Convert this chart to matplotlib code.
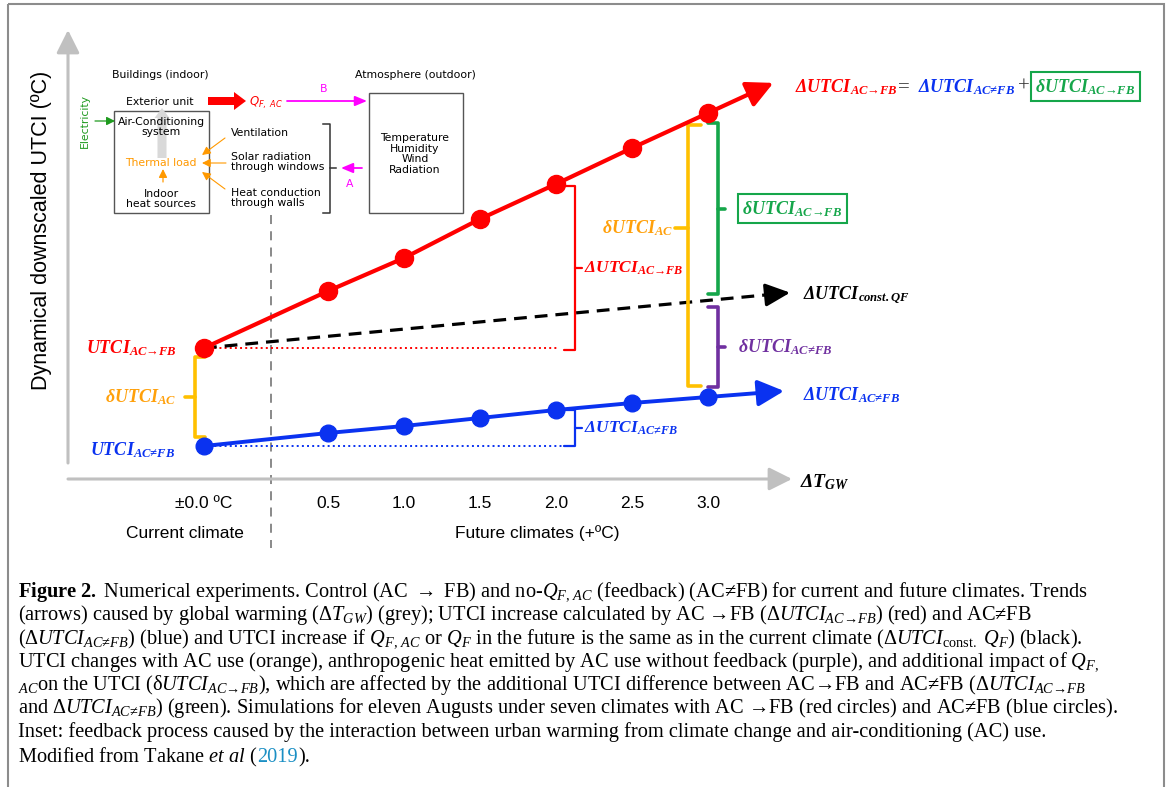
import numpy as np
import matplotlib
matplotlib.use("Agg")
import matplotlib.pyplot as plt
from matplotlib.patches import Rectangle, FancyArrow

plt.rcParams['mathtext.fontset'] = 'custom'
plt.rcParams['mathtext.rm'] = 'Liberation Serif'
plt.rcParams['mathtext.it'] = 'Liberation Serif:italic'
plt.rcParams['mathtext.bf'] = 'Liberation Serif:bold'
plt.rcParams['mathtext.bfit'] = 'Liberation Serif:bold:italic'

# ---------------- data ----------------
warming = np.array([0.0, 0.5, 1.0, 1.5, 2.0, 2.5, 3.0])
tick_labels = ['±0.0 ºC', '0.5', '1.0', '1.5', '2.0', '2.5', '3.0']
utci_ac_fb = np.array([2.45, 3.875, 4.70, 5.675, 6.55, 7.45, 8.325])     # red (AC -> FB)
utci_ac_nofb = np.array([0.0, 0.325, 0.50, 0.70, 0.90, 1.075, 1.225])    # blue (AC != FB)
utci_const_qf = np.array([2.45, 3.64])                                    # black dashed (at 0.0 and 3.0)

# layout
W, H = 1171, 787
GAP = 0.316                         # extra space between current and future climates
PX_X, PX_Y = 152.0, 40.0            # pixels per data unit
X0_PX, Y0_PX = 204, 446             # pixel of data origin

xp = warming + GAP * (warming > 0)

fig = plt.figure(figsize=(W / 100, H / 100), dpi=100)
lay = fig.add_axes([0, 0, 1, 1])
lay.set_xlim(0, W); lay.set_ylim(H, 0); lay.axis('off')
ax = fig.add_axes([0, 0, 1, 1])
ax.set_xlim(-X0_PX / PX_X, (W - X0_PX) / PX_X)
ax.set_ylim(-(H - Y0_PX) / PX_Y, Y0_PX / PX_Y)
ax.axis('off')
ax.patch.set_alpha(0)

RED = '#ff0000'; BLUE = '#0a32f0'; ORANGE_B = '#ffc000'; ORANGE_T = '#ffa00a'
GREEN = '#15a64a'; PURPLE = '#7030a0'; MAG = '#ff00ff'; GREY = '#c0c0c0'
FB = 'AC→FB'
NFB = 'AC≠FB'

def lab(main, sub):
    return r'$\mathbfit{%s}_{\mathbfit{%s}}$' % (main, sub)

# border
lay.add_patch(Rectangle((8, 4), 1156, 790, fill=False, ec='#8c8c8c', lw=1.5))

# axes arrows (grey)
lay.annotate('', xy=(68, 30), xytext=(68, 463),
             arrowprops=dict(arrowstyle='-|>,head_length=0.7,head_width=0.35', mutation_scale=20,
                             lw=2.2, color=GREY, shrinkA=0, shrinkB=0))
lay.annotate('', xy=(792, 479), xytext=(68, 479),
             arrowprops=dict(arrowstyle='-|>,head_length=0.7,head_width=0.35', mutation_scale=20,
                             lw=2.2, color=GREY, shrinkA=0, shrinkB=0))
lay.text(42, 230, 'Dynamical downscaled UTCI (ºC)', rotation=90, ha='center', va='center',
         fontsize=15.5, family='Liberation Sans')
lay.text(800, 482, r'$\mathbfit{\Delta T}_{\mathbfit{GW}}$', ha='left', va='center', fontsize=14)

# tick labels
for xv, t in zip(xp, tick_labels):
    ax.text(xv, -(504 - Y0_PX) / PX_Y, t, ha='center', va='center', fontsize=12.5,
            family='Liberation Sans')
lay.text(185, 533, 'Current climate', ha='center', va='center', fontsize=12.5, family='Liberation Sans')
lay.text(537, 533, 'Future climates (+ºC)', ha='center', va='center', fontsize=12.5, family='Liberation Sans')
lay.plot([271, 271], [215, 548], color='#808080', lw=1.3, ls=(0, (5, 4)))

# dotted reference lines
ax.plot([xp[0], xp[4] + 0.02], [utci_ac_fb[0]] * 2, color=RED, lw=1.4, ls=':', zorder=2)
ax.plot([xp[0], xp[4] + 0.12], [utci_ac_nofb[0]] * 2, color=BLUE, lw=1.4, ls=':', zorder=2)

# const QF dashed arrow
ext = 0.54
slope_c = (utci_const_qf[1] - utci_const_qf[0]) / (xp[-1] - xp[0])
tip = (xp[-1] + ext, utci_const_qf[1] + slope_c * ext)
pre = (tip[0] - 0.12, tip[1] - slope_c * 0.12)
ax.plot([xp[0], pre[0]], [utci_const_qf[0], pre[1]], color='black', lw=2.3, ls=(0, (4, 2.5)), zorder=3)
ax.annotate('', xy=tip, xytext=pre,
            arrowprops=dict(arrowstyle='-|>,head_length=0.75,head_width=0.35', mutation_scale=20,
                            lw=2.3, color='black', shrinkA=0, shrinkB=0), zorder=3)

# red and blue series
def series(y, color, ms, lw, ext):
    ax.plot(xp, y, color=color, lw=lw, marker='o', ms=ms, zorder=5)
    s = (y[-1] - y[-2]) / (xp[-1] - xp[-2])
    ax.annotate('', xy=(xp[-1] + ext, y[-1] + s * ext), xytext=(xp[-1], y[-1]),
                arrowprops=dict(arrowstyle='-|>,head_length=0.8,head_width=0.4', mutation_scale=20,
                                lw=lw, color=color, shrinkA=0, shrinkB=0), zorder=5)

series(utci_ac_fb, RED, 13, 3.0, 0.43)
series(utci_ac_nofb, BLUE, 12, 2.8, 0.50)

# brackets (data coords; arm/tick lengths in x units)
def bracket(x, y0, y1, color, arm, tick, lw=2.6, frac=0.5):
    ym = y0 + (y1 - y0) * frac
    ax.plot([x + arm, x, x, x + arm], [y0, y0, y1, y1], color=color, lw=lw,
            solid_joinstyle='round', solid_capstyle='round', zorder=4)
    ax.plot([x, x + tick], [ym, ym], color=color, lw=lw, solid_capstyle='round', zorder=4)
    return ym

pad = 9 / PX_Y
dx = 1 / PX_X
# left orange bracket
ym = bracket(xp[0] - 9 * dx, utci_ac_fb[0] - pad, utci_ac_nofb[0] + pad, ORANGE_B, 10 * dx, -10 * dx)
ax.text(xp[0] - 28 * dx, ym, lab(r'\delta UTCI', 'AC'), color=ORANGE_T, ha='right', va='center', fontsize=13)
ax.text(xp[0] - 27 * dx, utci_ac_fb[0], lab('UTCI', FB), color=RED, ha='right',
        va='center', fontsize=13)
ax.text(xp[0] - 29 * dx, utci_ac_nofb[0] - 0.1, lab('UTCI', NFB), color=BLUE, ha='right',
        va='center', fontsize=13)

# red and blue brackets at 2.0
ym = bracket(xp[4] + 19 * dx, utci_ac_fb[4] - 2 / PX_Y, utci_ac_fb[0] - 2 / PX_Y, RED, -11 * dx, 7 * dx, lw=1.6)
ax.text(xp[4] + 28 * dx, ym, lab(r'\Delta UTCI', FB), color=RED, ha='left',
        va='center', fontsize=12.5)
ym = bracket(xp[4] + 19 * dx, utci_ac_nofb[4], utci_ac_nofb[0], BLUE, -11 * dx, 7 * dx, lw=1.6)
ax.text(xp[4] + 28 * dx, ym, lab(r'\Delta UTCI', NFB), color=BLUE, ha='left',
        va='center', fontsize=12.5)

# brackets at 3.0
ym = bracket(xp[6] - 20 * dx, utci_ac_fb[6] - 12 / PX_Y, utci_ac_nofb[6] + 11 / PX_Y, ORANGE_B,
             13 * dx, -13 * dx, frac=0.395)
ax.text(xp[6] - 35 * dx, ym, lab(r'\delta UTCI', 'AC'), color=ORANGE_T, ha='right', va='center', fontsize=13)
const_at3 = utci_const_qf[1]
ym = bracket(xp[6] + 10 * dx, utci_ac_fb[6] - 10 / PX_Y, const_at3 + 6 / PX_Y, GREEN, -10 * dx, 7 * dx)
ax.text(xp[6] + 34 * dx, ym, lab(r'\delta UTCI', FB), color=GREEN, ha='left',
        va='center', fontsize=13,
        bbox=dict(boxstyle='square,pad=0.25', fc='white', ec=GREEN, lw=1.5))
ym = bracket(xp[6] + 10 * dx, const_at3 - 7 / PX_Y, utci_ac_nofb[6] + 10 / PX_Y, PURPLE, -10 * dx, 7 * dx)
ax.text(xp[6] + 30 * dx, ym, lab(r'\delta UTCI', NFB), color=PURPLE, ha='left',
        va='center', fontsize=13)

# right-side labels
lay.text(803, 295, lab(r'\Delta UTCI', r'const.QF'), color='black', ha='left', va='center', fontsize=13)
lay.text(803, 395, lab(r'\Delta UTCI', NFB), color=BLUE, ha='left', va='center', fontsize=13)

# top equation, chained left to right
e1 = lay.text(795, 92, lab(r'\Delta UTCI', FB), color=RED, ha='left', va='baseline', fontsize=13)
e2 = lay.annotate('=', xy=(1, 0), xycoords=e1, xytext=(0, 0), textcoords='offset points',
                  color='#333333', ha='left', va='bottom', fontsize=15, family='Liberation Serif')
e3 = lay.annotate(lab(r'\Delta UTCI', NFB), xy=(1, 0), xycoords=e2, xytext=(6, 0),
                  textcoords='offset points', color=BLUE, ha='left', va='bottom', fontsize=13)
e4 = lay.annotate('+', xy=(1, 0), xycoords=e3, xytext=(2, 0), textcoords='offset points',
                  color='#333333', ha='left', va='bottom', fontsize=15, family='Liberation Serif')
lay.annotate(lab(r'\delta UTCI', FB), xy=(1, 0), xycoords=e4, xytext=(4, 0),
             textcoords='offset points', color=GREEN, ha='left', va='bottom', fontsize=13,
             bbox=dict(boxstyle='square,pad=0.25', fc='white', ec=GREEN, lw=1.5))

# ---------------- inset ----------------
fs = 7.8
sans = 'DejaVu Sans'
lay.add_patch(Rectangle((114, 111), 95, 102, fill=False, ec='#555555', lw=1.0))
lay.add_patch(Rectangle((369, 93), 94, 120, fill=False, ec='#555555', lw=1.0))
lay.add_patch(FancyArrow(162, 158, 0, -40, width=9, head_width=15, head_length=10,
                         length_includes_head=False, color='#d9d9d9', lw=0, zorder=1))
lay.add_patch(FancyArrow(208, 101, 26, 0, width=8, head_width=18, head_length=12, color=RED, lw=0))
lay.text(160, 75, 'Buildings (indoor)', ha='center', va='center', fontsize=fs, family=sans)
lay.text(415, 75, 'Atmosphere (outdoor)', ha='center', va='center', fontsize=fs, family=sans)
lay.text(160, 102, 'Exterior unit', ha='center', va='center', fontsize=fs, family=sans)
lay.text(249, 103, r'$Q_{F,\ AC}$', ha='left', va='center', fontsize=8.5, color=RED, math_fontfamily='dejavusans')
lay.text(324, 89, 'B', ha='center', va='center', fontsize=fs, family=sans, color=MAG)
lay.annotate('', xy=(367, 101), xytext=(287, 101),
             arrowprops=dict(arrowstyle='-|>,head_length=0.6,head_width=0.25', mutation_scale=12,
                             lw=1.3, color=MAG, shrinkA=0, shrinkB=0))
lay.text(85, 121, 'Electricity', rotation=90, ha='center', va='center', fontsize=fs, family=sans, color='#1e9a1e')
lay.annotate('', xy=(115, 121), xytext=(95, 121),
             arrowprops=dict(arrowstyle='-|>,head_length=0.5,head_width=0.25', mutation_scale=10,
                             lw=0.9, color='#1e9a1e', shrinkA=0, shrinkB=0))
lay.text(161, 127, 'Air-Conditioning\nsystem', ha='center', va='center', fontsize=fs, family=sans,
         linespacing=1.1, zorder=3)
lay.text(161, 163, 'Thermal load', ha='center', va='center', fontsize=fs, family=sans, color='#ff9900')
lay.annotate('', xy=(163, 169), xytext=(163, 182),
             arrowprops=dict(arrowstyle='-|>,head_length=0.5,head_width=0.25', mutation_scale=10,
                             lw=0.9, color='#ff9900', shrinkA=0, shrinkB=0))
lay.text(161, 199, 'Indoor\nheat sources', ha='center', va='center', fontsize=fs, family=sans, linespacing=1.1)
lay.text(231, 133, 'Ventilation', ha='left', va='center', fontsize=fs, family=sans)
lay.text(231, 162, 'Solar radiation\nthrough windows', ha='left', va='center', fontsize=fs, family=sans,
         linespacing=1.1)
lay.text(231, 198, 'Heat conduction\nthrough walls', ha='left', va='center', fontsize=fs, family=sans,
         linespacing=1.1)
for (x0, y0), (x1, y1) in [((225, 138), (202, 155)), ((226, 163), (202, 163)), ((225, 189), (202, 172))]:
    lay.annotate('', xy=(x1, y1), xytext=(x0, y0),
                 arrowprops=dict(arrowstyle='-|>,head_length=0.5,head_width=0.25', mutation_scale=10,
                                 lw=0.8, color='#ff9900', shrinkA=0, shrinkB=0))
lay.plot([323, 330, 330, 323], [124, 124, 213, 213], color='#333333', lw=1.1)
lay.plot([330, 336], [168, 168], color='#333333', lw=1.1)
lay.annotate('', xy=(341, 168), xytext=(362, 168),
             arrowprops=dict(arrowstyle='-|>,head_length=0.6,head_width=0.25', mutation_scale=12,
                             lw=1.3, color=MAG, shrinkA=0, shrinkB=0))
lay.text(350, 184, 'A', ha='center', va='center', fontsize=fs, family=sans, color=MAG)
lay.text(415, 154, 'Temperature\nHumidity\nWind\nRadiation', ha='center', va='center', fontsize=fs,
         family=sans, linespacing=1.1)

# ---------------- caption ----------------
CFS = 14.7
cap_lines = [
    r'$\mathbf{Figure\ 2.}$ Numerical experiments. Control (AC $\rightarrow$ FB) and no-$Q_{F,\,AC}$ (feedback) (AC≠FB) for current and future climates. Trends',
    r'(arrows) caused by global warming (Δ$T_{GW}$) (grey); UTCI increase calculated by AC →FB (Δ$UTCI_{AC→FB}$) (red) and AC≠FB',
    r'(Δ$UTCI_{AC≠FB}$) (blue) and UTCI increase if $Q_{F,\,AC}$ or $Q_F$ in the future is the same as in the current climate (Δ$UTCI_{\mathrm{const.}}$ $Q_F$) (black).',
    r'UTCI changes with AC use (orange), anthropogenic heat emitted by AC use without feedback (purple), and additional impact of $Q_{F,}$',
    r'$_{AC}$on the UTCI (δ$UTCI_{AC→FB}$), which are affected by the additional UTCI difference between AC→FB and AC≠FB (Δ$UTCI_{AC→FB}$',
    r'and Δ$UTCI_{AC≠FB}$) (green). Simulations for eleven Augusts under seven climates with AC →FB (red circles) and AC≠FB (blue circles).',
    r'Inset: feedback process caused by the interaction between urban warming from climate change and air-conditioning (AC) use.',
]
cap_y = [597, 620, 643, 667, 690, 713, 737]
for t, y in zip(cap_lines, cap_y):
    lay.text(18, y, t, ha='left', va='baseline', fontsize=CFS, family='Liberation Serif')

fig.canvas.draw()
rend = fig.canvas.get_renderer()
xcur = 18
for piece, col in [(r'Modified from Takane $et\ al$ (', 'black'), ('2019', '#1a8fc4'), (').', 'black')]:
    t = lay.text(xcur, 762, piece, ha='left', va='baseline', fontsize=CFS, family='Liberation Serif', color=col)
    xcur = t.get_window_extent(rend).x1

fig.savefig('out.png', dpi=100)
